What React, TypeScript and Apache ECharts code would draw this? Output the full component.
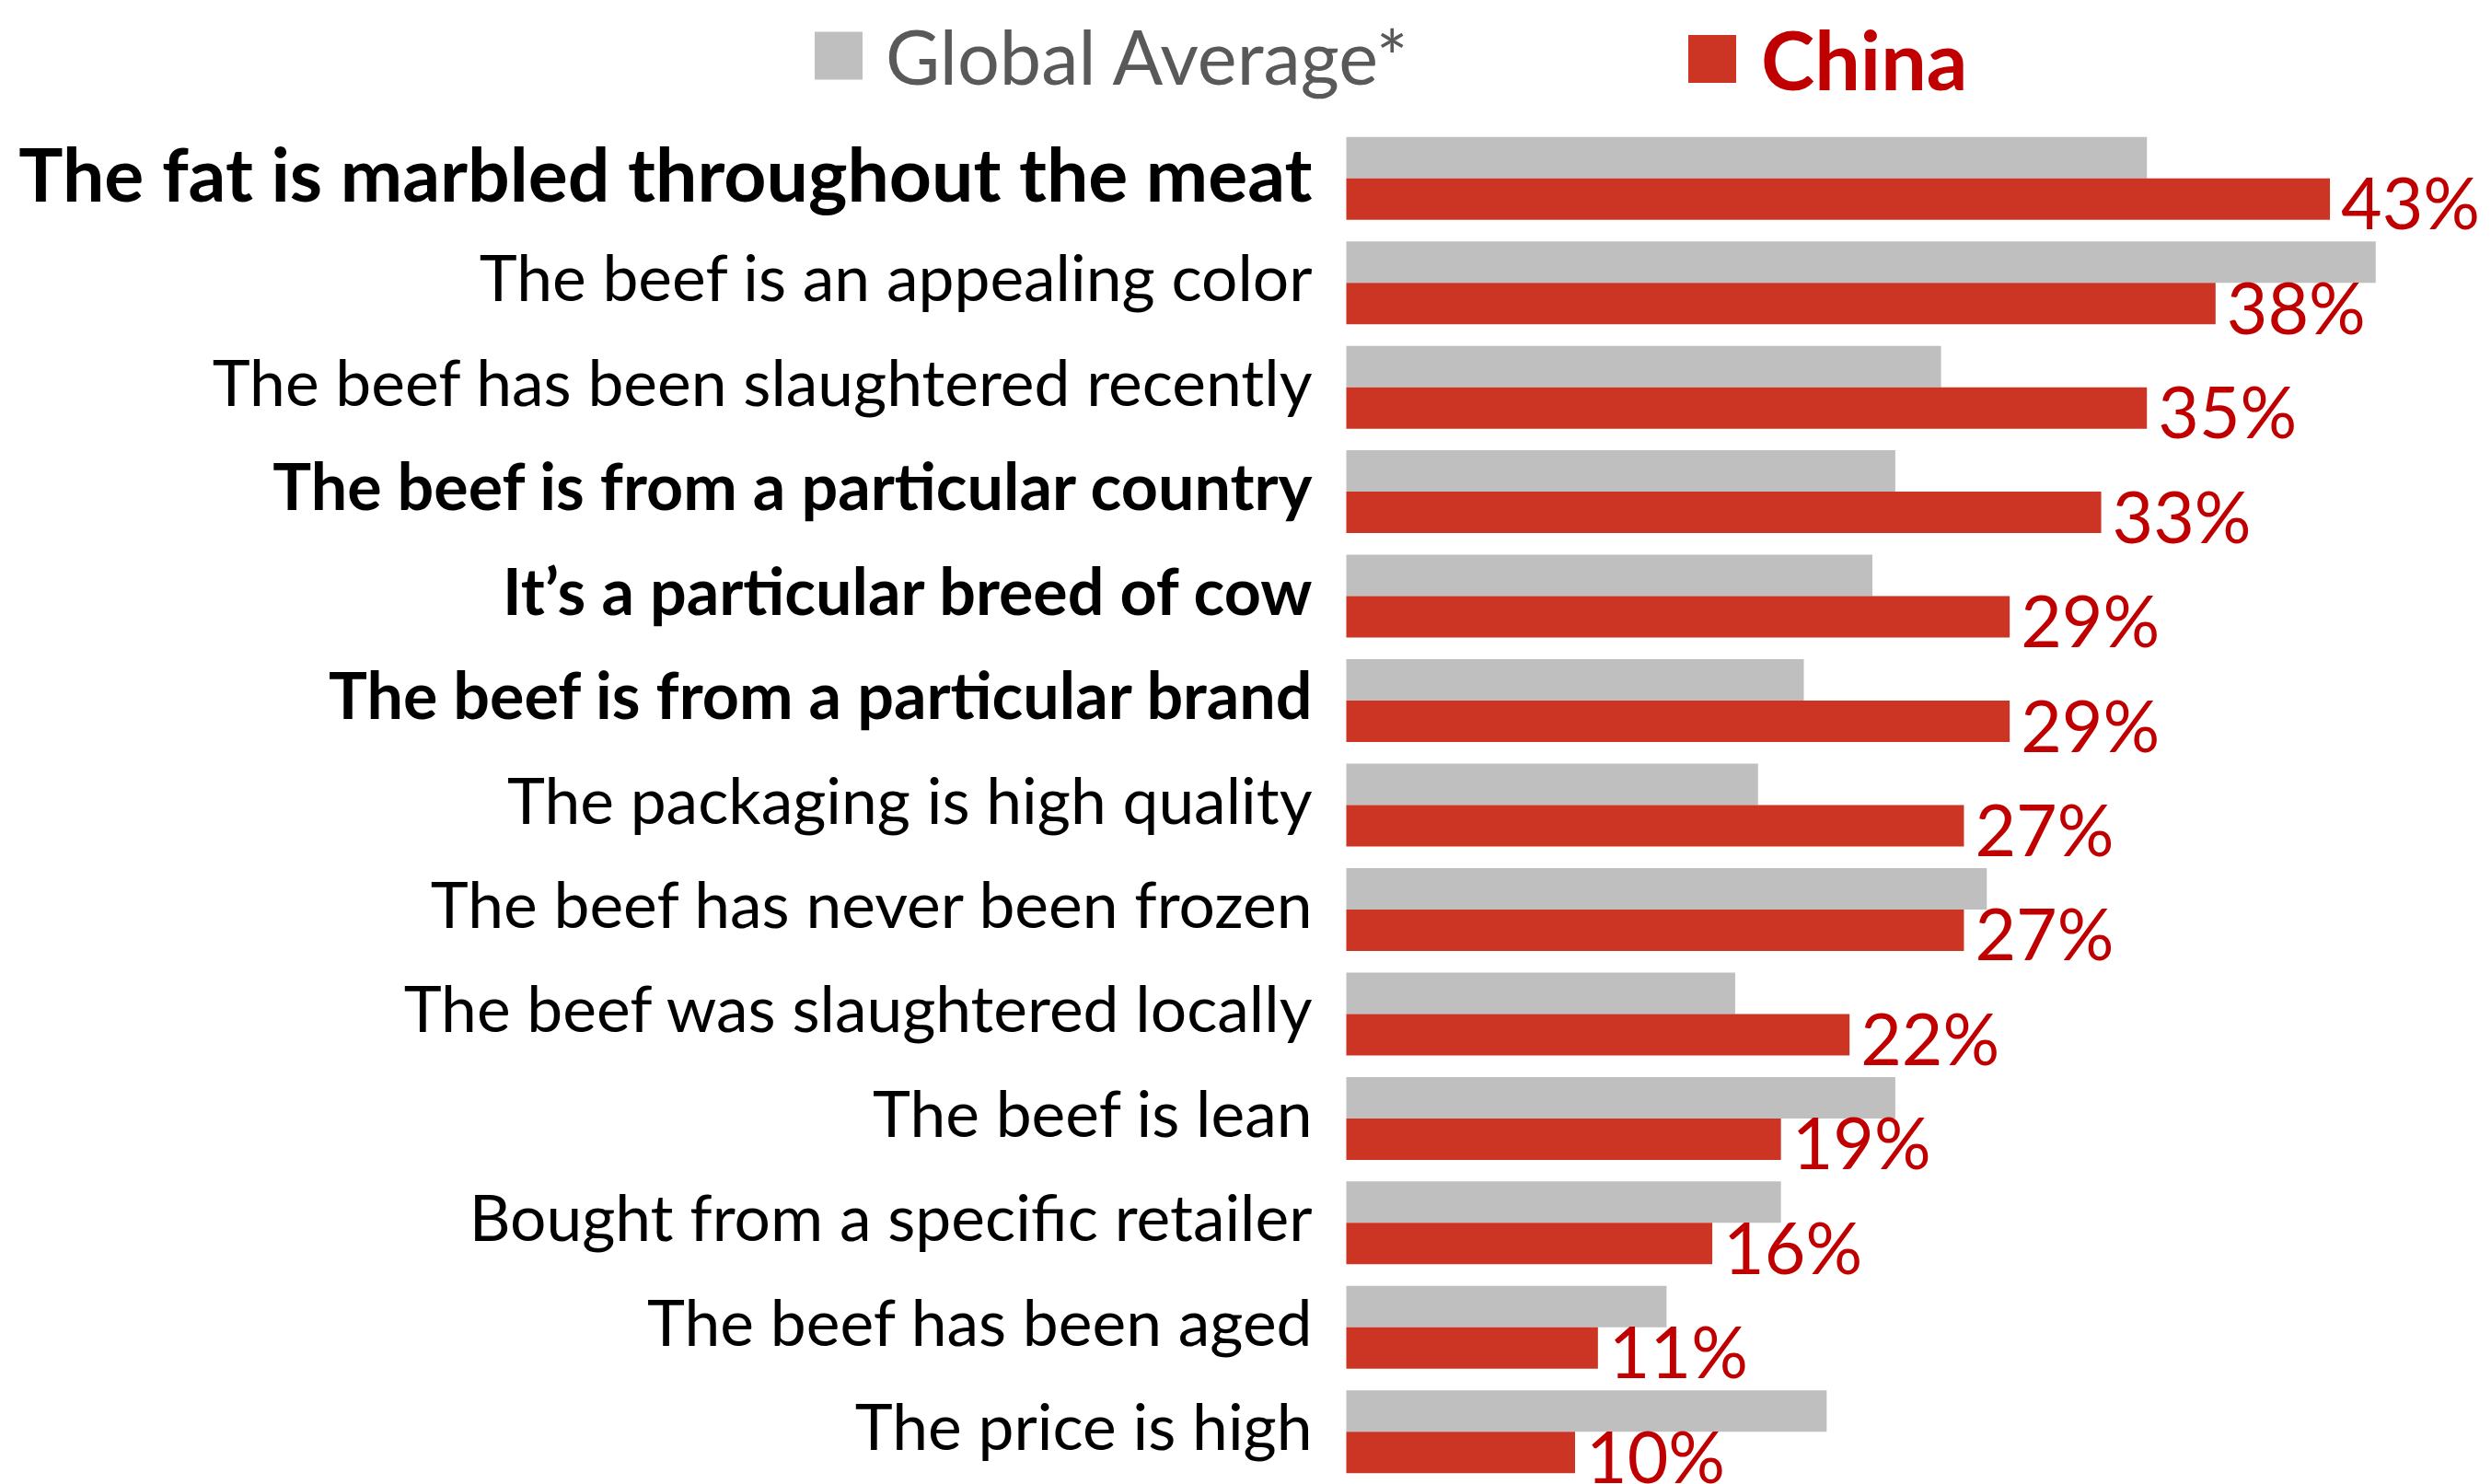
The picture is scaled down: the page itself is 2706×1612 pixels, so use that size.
import React, { useEffect, useRef } from "react";
import * as echarts from "echarts";

const categories = [
  "The fat is marbled throughout the meat",
  "The beef is an appealing color",
  "The beef has been slaughtered recently",
  "The beef is from a particular country",
  "It’s a particular breed of cow",
  "The beef is from a particular brand",
  "The packaging is high quality",
  "The beef has never been frozen",
  "The beef was slaughtered locally",
  "The beef is lean",
  "Bought from a specific retailer",
  "The beef has been aged",
  "The price is high",
];
const globalAverage = [35, 45, 26, 24, 23, 20, 18, 28, 17, 24, 19, 14, 21];
const china = [43, 38, 35, 33, 29, 29, 27, 27, 22, 19, 16, 11, 10];
const boldCategories = [
  "The beef is from a particular country",
  "It’s a particular breed of cow",
  "The beef is from a particular brand",
];
const largeCategory = "The fat is marbled throughout the meat";

const FONT = "Lato";

export default function App() {
  const ref = useRef<HTMLDivElement>(null);
  useEffect(() => {
    if (!ref.current) return;
    const chart = echarts.init(ref.current, undefined, { renderer: "svg" });
    chart.setOption({
      animation: false,
      backgroundColor: "#ffffff",
      textStyle: { fontFamily: FONT },
      legend: [
        {
          left: 885,
          top: 20,
          padding: 0,
          itemWidth: 52,
          itemHeight: 52,
          data: [{ name: "Global Average*", icon: "rect" }],
          textStyle: {
            color: "#595959",
            fontSize: 81,
            fontFamily: FONT,
            lineHeight: 52,
            padding: [0, 0, 0, 20],
          },
        },
        {
          left: 1834,
          top: 20,
          padding: 0,
          itemWidth: 52,
          itemHeight: 52,
          data: [{ name: "China", icon: "rect" }],
          textStyle: {
            color: "#C00000",
            fontSize: 88,
            fontWeight: "bold",
            fontFamily: FONT,
            lineHeight: 52,
            padding: [0, 0, 0, 22],
          },
        },
      ],
      grid: { left: 1462.5, top: 137, width: 1242.5, height: 1478, containLabel: false },
      xAxis: {
        type: "value",
        min: 0,
        max: 50,
        show: false,
        splitLine: { show: false },
      },
      yAxis: {
        type: "category",
        inverse: true,
        data: categories,
        axisLine: { show: false },
        axisTick: { show: false },
        axisLabel: {
          margin: 37,
          formatter: (v: string) => {
            if (v === largeCategory) return `{big|${v}}`;
            if (boldCategories.includes(v)) return `{b|${v}}`;
            return `{n|${v}}`;
          },
          rich: {
            big: { fontSize: 80.5, fontWeight: "bold", color: "#000", fontFamily: FONT, padding: [0, 0, 12, 0] },
            b: { fontSize: 70, fontWeight: "bold", color: "#000", fontFamily: FONT, padding: [0, 0, 14, 0] },
            n: { fontSize: 69.5, color: "#000", fontFamily: FONT, padding: [0, 0, 14, 0] },
          },
        },
      },
      series: [
        {
          name: "Global Average*",
          type: "bar",
          data: globalAverage,
          barWidth: 45,
          barGap: "0%",
          itemStyle: { color: "#BFBFBF" },
        },
        {
          name: "China",
          type: "bar",
          data: china,
          barWidth: 45,
          barGap: "0%",
          itemStyle: { color: "#CC3424" },
          label: {
            show: true,
            position: "right",
            distance: 12,
            formatter: "{c}%",
            color: "#C00000",
            fontSize: 77,
            fontFamily: FONT,
            offset: [0, 3],
          },
        },
      ],
    });
    return () => chart.dispose();
  }, []);
  return (
    <div
      ref={ref}
      style={{ position: "absolute", left: 0, top: 0, width: 2706, height: 1612 }}
    />
  );
}
